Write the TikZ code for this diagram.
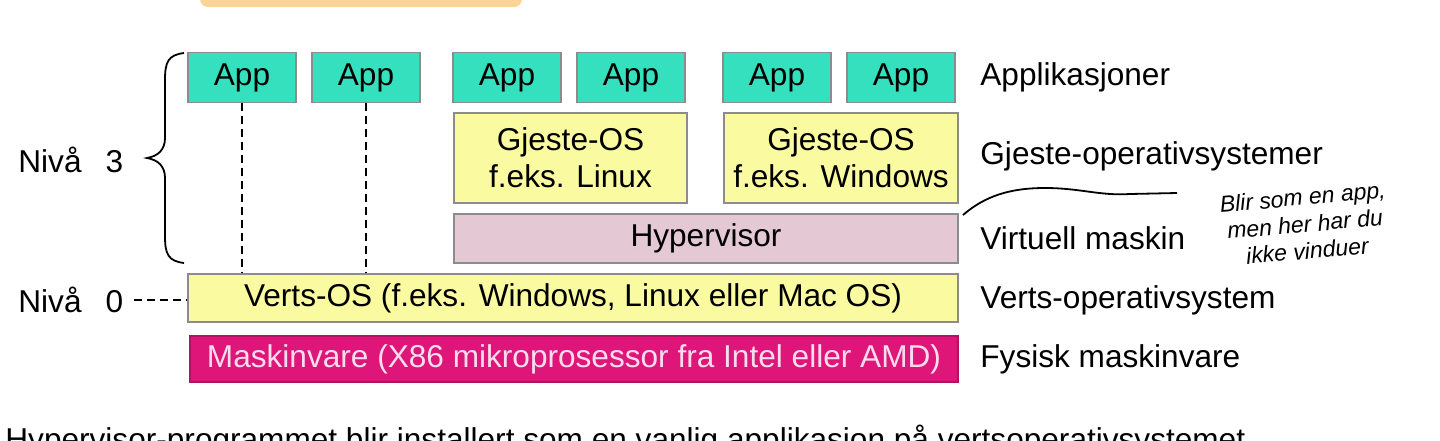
\documentclass[tikz,border=0pt]{standalone}
\usepackage{fontspec}
\setmainfont{Liberation Sans}
\begin{document}
\begin{tikzpicture}[x=0.5pt,y=-0.5pt,
  box/.style={draw=black!45,line width=0.8pt,inner sep=0pt,align=center,font=\fontsize{15.8}{18.5}\selectfont},
  appbox/.style={box,fill=appc,minimum width=54pt,minimum height=25pt},
  lbl/.style={anchor=west,inner sep=0pt,font=\fontsize{15.8}{18}\selectfont},
  dashln/.style={line width=0.8pt,dash pattern=on 4pt off 2.5pt}]
\definecolor{appc}{RGB}{52,224,190}
\definecolor{yel}{RGB}{250,250,160}
\definecolor{pinkc}{RGB}{228,200,212}
\definecolor{magc}{RGB}{222,22,122}
\definecolor{orng}{RGB}{252,212,150}
\useasboundingbox (0,0) rectangle (1440,440);
% partial title bar
\fill[orng,rounded corners=4pt] (200,-20) rectangle (522,7);
% apps
\node[appbox] (a1) at (242,77.5) {App};
\node[appbox] (a2) at (366,77.5) {App};
\node[appbox] (a3) at (507,77.5) {App};
\node[appbox] (a4) at (631,77.5) {App};
\node[appbox] (a5) at (777,77.5) {App};
\node[appbox] (a6) at (901,77.5) {App};
% guest OS
\node[box,fill=yel,minimum width=116.5pt,minimum height=45pt] (g1) at (570.5,158) {Gjeste-OS\\f.eks. Linux};
\node[box,fill=yel,minimum width=117pt,minimum height=45pt] (g2) at (841,158) {Gjeste-OS\\f.eks. Windows};
\node[box,fill=pinkc,minimum width=252pt,minimum height=24.5pt] (hv) at (706,238.5) {Hypervisor};
\node[box,fill=yel,minimum width=385pt,minimum height=24pt] (vo) at (573,298) {Verts-OS (f.eks. Windows, Linux eller Mac OS)};
\node[box,fill=magc,draw=magc!80!black,text=white!85!magc,minimum width=384pt,minimum height=23pt] (hw) at (574,359) {Maskinvare (X86 mikroprosessor fra Intel eller AMD)};
% dashed app connectors
\draw[dashln] (a1.south) -- (a1.south |- vo.north);
\draw[dashln] (a2.south) -- (a2.south |- vo.north);
% right labels
\node[lbl] (l1) at (980,77) {Applikasjoner};
\node[lbl] (l2) at (980,156) {Gjeste-operativsystemer};
\node[lbl] (l3) at (980,238) {Virtuell maskin};
\node[lbl] (l4) at (980,300) {Verts-operativsystem};
\node[lbl] (l5) at (980,359) {Fysisk maskinvare};
% left labels
\node[lbl] (n3) at (18,160) {Nivå\hspace{12pt}3};
\node[lbl] (n0) at (18,300) {Nivå\hspace{12pt}0};
\draw[dashln] (n0.east) ++(10,0) coordinate (d0) -- (d0 -| vo.west);
% brace
\draw[line width=0.9pt] (184,53) .. controls (168,55) and (165,62) .. (165,80)
  -- (165,138) .. controls (165,150) and (158,156) .. (147,158)
  .. controls (158,160) and (165,166) .. (165,178)
  -- (165,236) .. controls (165,254) and (168,261) .. (184,263);
% handwritten annotation
\draw[line width=0.9pt] (963,215) .. controls (985,196) and (1010,188) .. (1045,188)
  .. controls (1080,188) and (1100,196) .. (1130,194) -- (1177,193);
\node[rotate=5,align=center,inner sep=0pt,font=\fontsize{11.5}{13.5}\selectfont\itshape] (hn) at (1305,224) {Blir som en app,\\men her har du\\ikke vinduer};
% bottom cut text
\node[anchor=north west,inner sep=0pt,font=\fontsize{15.8}{18}\selectfont] (bt) at (5,425) {Hypervisor-programmet blir installert som en vanlig applikasjon på vertsoperativsystemet};
\end{tikzpicture}
\end{document}
